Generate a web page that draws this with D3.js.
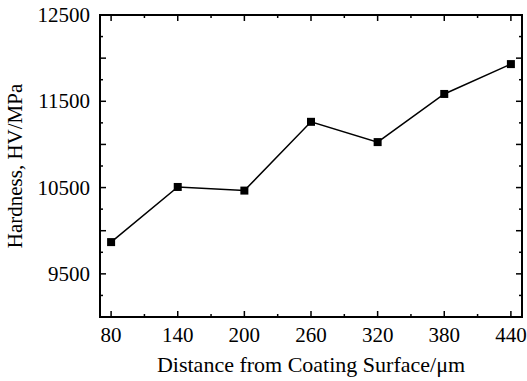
<!DOCTYPE html>
<meta charset="utf-8">
<head>
    <title>Hardness vs Distance from Coating Surface</title>
    <script type="text/javascript" src="https://cdn.jsdelivr.net/npm/d3@7"></script>
    <style>
        body { margin: 0; background: #fff; }
        text { font-family: "Liberation Serif", "Times New Roman", serif; fill: #000; }
    </style>
</head>
<body>
<script>
    // data
    var distance = [80, 140, 200, 260, 320, 380, 440];
    var hardness = [9868, 10507, 10465, 11262, 11027, 11585, 11931];
    var xTickLabels = [80, 140, 200, 260, 320, 380, 440];
    var yTickLabels = [9500, 10500, 11500, 12500];

    var width = 527, height = 381;
    var margin = {top: 15, right: 5, bottom: 64, left: 100};

    var svg = d3.select("body").append("svg")
        .attr("width", width)
        .attr("height", height);

    var x = d3.scaleLinear().domain([70, 450]).range([margin.left, width - margin.right]);
    var y = d3.scaleLinear().domain([9000, 12500]).range([height - margin.bottom, margin.top]);

    var x0 = x.range()[0], x1 = x.range()[1], y0 = y.range()[0], y1 = y.range()[1];

    var g = svg.append("g");

    // ticks (inward) on all four sides
    var xMajor = d3.range(80, 441, 60), xMinor = d3.range(110, 441, 60);
    var yMajor = d3.range(9500, 12501, 500), yMinor = d3.range(9250, 12500, 500);

    function vTicks(vals, len) {
        vals.forEach(function(v) {
            g.append("line").attr("x1", x(v)).attr("x2", x(v)).attr("y1", y0).attr("y2", y0 - len)
                .attr("stroke", "#000").attr("stroke-width", 1.5);
            g.append("line").attr("x1", x(v)).attr("x2", x(v)).attr("y1", y1).attr("y2", y1 + len)
                .attr("stroke", "#000").attr("stroke-width", 1.5);
        });
    }
    function hTicks(vals, len) {
        vals.forEach(function(v) {
            g.append("line").attr("y1", y(v)).attr("y2", y(v)).attr("x1", x0).attr("x2", x0 + len)
                .attr("stroke", "#000").attr("stroke-width", 1.5);
            g.append("line").attr("y1", y(v)).attr("y2", y(v)).attr("x1", x1).attr("x2", x1 - len)
                .attr("stroke", "#000").attr("stroke-width", 1.5);
        });
    }
    vTicks(xMajor, 6); vTicks(xMinor, 3);
    hTicks(yMajor, 6); hTicks(yMinor, 3);

    // frame
    g.append("rect").attr("x", x0).attr("y", y1).attr("width", x1 - x0).attr("height", y0 - y1)
        .attr("fill", "none").attr("stroke", "#000").attr("stroke-width", 2);

    // tick labels
    g.selectAll(".xl").data(xTickLabels).enter().append("text")
        .attr("x", function(d) { return x(d); })
        .attr("y", y0 + 25)
        .attr("text-anchor", "middle")
        .style("font-size", "21px")
        .text(function(d) { return d; });

    g.selectAll(".yl").data(yTickLabels).enter().append("text")
        .attr("x", x0 - 10)
        .attr("y", function(d) { return y(d) + 7; })
        .attr("text-anchor", "end")
        .style("font-size", "21px")
        .text(function(d) { return d; });

    // axis titles
    svg.append("text")
        .attr("x", (x0 + x1) / 2)
        .attr("y", 372)
        .attr("text-anchor", "middle")
        .style("font-size", "22px")
        .text("Distance from Coating Surface/\u03bcm");

    svg.append("text")
        .attr("transform", "translate(22," + ((y0 + y1) / 2) + ") rotate(-90)")
        .attr("text-anchor", "middle")
        .style("font-size", "21px")
        .text("Hardness, HV/MPa");

    // line + markers
    var pts = distance.map(function(d, i) { return [d, hardness[i]]; });
    var line = d3.line().x(function(d) { return x(d[0]); }).y(function(d) { return y(d[1]); });

    g.append("path").datum(pts)
        .attr("d", line)
        .attr("fill", "none")
        .attr("stroke", "#000")
        .attr("stroke-width", 1.5);

    g.selectAll(".pt").data(pts).enter().append("rect")
        .attr("x", function(d) { return x(d[0]) - 4; })
        .attr("y", function(d) { return y(d[1]) - 4; })
        .attr("width", 8).attr("height", 8)
        .attr("fill", "#000");
</script>
</body>
</html>
